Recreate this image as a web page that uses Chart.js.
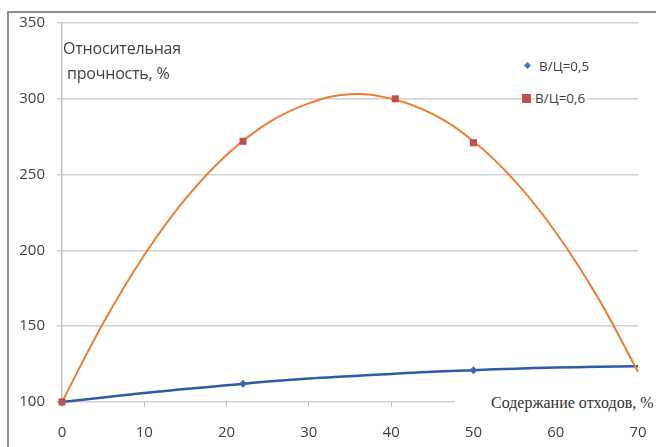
<!DOCTYPE html>
<html>
<head>
<meta charset="utf-8">
<script src="https://cdn.jsdelivr.net/npm/chart.js@4"></script>
<style>
  body { margin: 0; background: #fff; }
  #wrap { position: relative; width: 656px; height: 447px; overflow: hidden; }
  #frame { position: absolute; left: 7px; top: 11px; width: 660px; height: 450px;
           border-left: 2px solid #8c8c8c; border-top: 2px solid #8c8c8c; }
  .txt { position: absolute; font-family: "Open Sans", sans-serif; color: #404040; white-space: nowrap; }
  #ytitle { left: 63px; top: 36px; font-size: 16px; line-height: 25px; letter-spacing: -0.2px; }
  #xtitle { left: 455px; top: 394px; padding-left: 36px; background: #fff;
            font-family: "Liberation Serif", serif; font-size: 16px; color: #303030; }
  .leg { position: absolute; font-family: "Open Sans", sans-serif; font-size: 13.5px; color: #404040; }
  .mk { position: absolute; }
</style>
</head>
<body>
<div id="wrap">
  <canvas id="myChart" width="656" height="447"></canvas>
  <div id="frame"></div>
  <div class="txt" id="ytitle">Относительная<br>&nbsp;прочность, %</div>
  <div class="txt" id="xtitle">Содержание отходов, %</div>
  <div class="mk" style="left:525px;top:63px;width:5px;height:5px;background:#4472c4;transform:rotate(45deg)"></div>
  <div class="leg" style="left:539px;top:57px;">В/Ц=0,5</div>
  <div class="mk" style="left:522px;top:94px;width:9px;height:9px;background:#c0504d"></div>
  <div class="leg" style="left:535px;top:89px;background:#fff;padding-right:3px">В/Ц=0,6</div>
</div>
<script>
// measured points
const xBlue = [0, 22, 50]
const yBlue = [100, 112, 121]
const xRed = [0, 22, 40.5, 50]
const yRed = [100, 272, 300, 271]

// trend lines
const xTrend = [0, 5, 10, 15, 20, 25, 30, 35, 40, 45, 50, 55, 60, 65, 70]
const yTrendRed = [100, 152, 197, 234, 263, 284, 297, 303, 300, 290, 272, 246, 212, 170, 120]
const yTrendBlue = [100, 103, 106, 108.5, 111, 113.5, 115.5, 117, 118.5, 120, 121, 122, 122.7, 123.2, 123.5]

const xTicks = [0, 10, 20, 30, 40, 50, 60, 70]
const yTicks = [100, 150, 200, 250, 300, 350]

function pts(xs, ys) {
    return xs.map((x, i) => ({ x: x, y: ys[i] }))
}

const ctx = document.getElementById("myChart")
new Chart(ctx, {
    type: "scatter",
    data: {
        datasets: [
            {
                label: "В/Ц=0,6",
                data: pts(xRed, yRed),
                pointStyle: "rect",
                pointRadius: 5,
                backgroundColor: "#c0504d",
                borderColor: "#c0504d",
                borderWidth: 0,
                clip: false
            },
            {
                label: "В/Ц=0,5",
                data: pts(xBlue, yBlue),
                pointStyle: "rectRot",
                pointRadius: 4,
                backgroundColor: "#3f67b1",
                borderColor: "#3f67b1",
                borderWidth: 0,
                clip: false
            },
            {
                label: "trend 0,6",
                data: pts(xTrend, yTrendRed),
                showLine: true,
                pointRadius: 0,
                borderColor: "#ed7d31",
                borderWidth: 2,
                tension: 0.4,
                clip: false
            },
            {
                label: "trend 0,5",
                data: pts(xTrend, yTrendBlue),
                showLine: true,
                pointRadius: 0,
                borderColor: "#2f5aa5",
                borderWidth: 2.5,
                tension: 0.4,
                clip: false
            }
        ]
    },
    options: {
        responsive: false,
        animation: false,
        devicePixelRatio: 1,
        layout: { padding: { left: 0, top: 23, right: 18, bottom: 0 } },
        plugins: { legend: { display: false }, tooltip: { enabled: false } },
        scales: {
            x: {
                type: "linear",
                min: 0,
                max: 70,
                afterBuildTicks: (s) => { s.ticks = xTicks.map(v => ({ value: v })) },
                afterFit: (s) => { s.height = 45; s.paddingRight = 0 },
                grid: { drawOnChartArea: false, color: "#bfbfbf", tickLength: 5, lineWidth: 1 },
                border: { display: false },
                ticks: { padding: 17, color: "#404040", font: { family: "Open Sans", size: 15 } }
            },
            y: {
                min: 100,
                max: 350,
                afterBuildTicks: (s) => { s.ticks = yTicks.map(v => ({ value: v })) },
                afterFit: (s) => { s.width = 62 },
                grid: { color: "#d0d0d0", lineWidth: 1.5, tickLength: 5 },
                border: { color: "#bfbfbf", width: 1.5 },
                ticks: { padding: 12, color: "#404040", font: { family: "Open Sans", size: 15 } }
            }
        }
    }
})
</script>
</body>
</html>
